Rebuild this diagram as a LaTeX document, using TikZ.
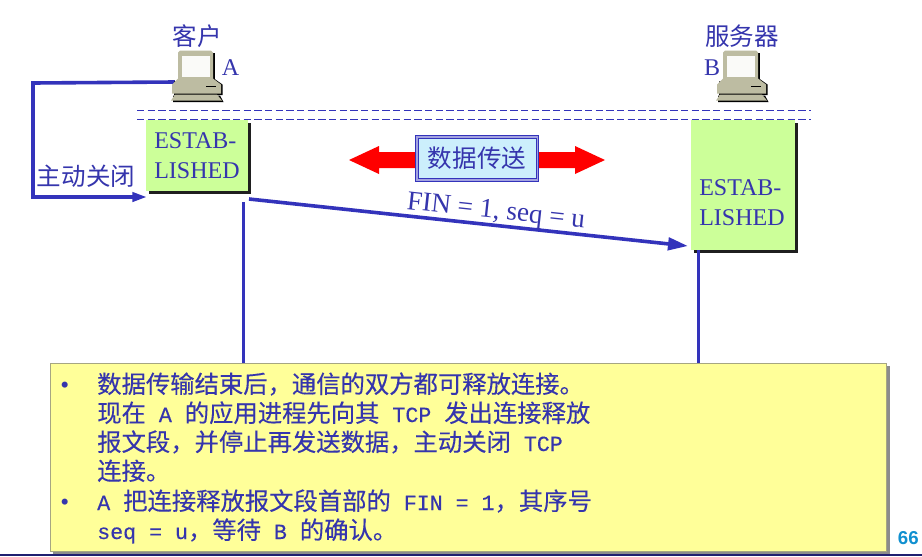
\documentclass[tikz,border=0pt]{standalone}
\usepackage{fontspec}
\usetikzlibrary{arrows.meta,shadows}
\setmainfont{Liberation Serif}
\newfontfamily\cjk{Noto Sans CJK SC}
\newfontfamily\cjkb{Noto Sans CJK SC}[FakeBold=0.25]
\newfontfamily\monof{Liberation Mono}[FakeBold=0.35]
\newfontfamily\headf{Liberation Sans}[BoldFont=Liberation Sans Bold]
\definecolor{ink}{HTML}{3333BB}
\definecolor{txt}{HTML}{3535AD}
\definecolor{green1}{HTML}{CCFF99}
\definecolor{yellow1}{HTML}{FFFF99}
\definecolor{bodyc}{HTML}{BDBCA2}
\definecolor{pagec}{HTML}{1090D0}
\newcommand{\pxs}[2]{\fontsize{#1}{#2}\selectfont}
\newcommand{\cn}[1]{{\cjk\pxs{18.4}{22}#1}}
\newcommand{\nl}[1]{{\cjkb\pxs{18.25}{22}#1}}
\newcommand{\ml}[1]{{\monof\pxs{16.2}{22}#1}}
\tikzset{
  flow/.style={draw=ink,line width=2.7pt,line join=miter},
  headtip/.style={-{Triangle[length=#1,width=0.62*#1]}},
  statebox/.style={fill=green1,inner sep=0pt,general shadow={fill=black!88,shadow xshift=2.2pt,shadow yshift=-2.2pt}},
  stlabel/.style={text=txt,font=\pxs{18}{21.8},align=left,inner sep=0pt},
  guide/.style={draw=ink,line width=0.6pt,dash pattern=on 5.5pt off 2.5pt},
  captxt/.style={text=txt,inner sep=0pt},
  notebox/.style={fill=yellow1,draw=yellow1!50!black!70!white,line width=0.7pt,inner sep=0pt,general shadow={fill=black!45,shadow xshift=2.4pt,shadow yshift=-2.4pt}},
  noteline/.style={text=txt,anchor=base west,inner sep=0pt},
  computer/.pic={
    \fill[black] (-17,-23) rectangle (17.5,3);
    \fill[black] (-23,6) -- (17,3) -- (25.5,9) -- (25.5,19.5) -- (-23,19.5) -- cycle;
    \fill[black] (-24,20) -- (23,20) -- (26.5,26.5) -- (-24,26.5) -- cycle;
    \fill[bodyc] (-19,-23) -- (-17,-25) -- (14,-25) -- (16,-23) -- (16,4) -- (-19,4) -- cycle;
    \fill[white!92!bodyc] (-15,-19.5) rectangle (13,1.5);
    \fill[bodyc] (-19,3) -- (16,3) -- (24,9) -- (24,18) -- (-25,18) -- (-25,9) -- cycle;
    \draw[black,line width=0.6pt] (9,10.5) -- (19,10.5);
    \fill[bodyc] (-22,19) -- (20,19) -- (25,25) -- (-26,25) -- cycle;
  }
}
\begin{document}
\begin{tikzpicture}[x=0.75pt,y=-0.75pt]
\useasboundingbox (0,0) rectangle (922,557);
\fill[white] (0,0) rectangle (922,557);
\coordinate (ruleL) at (0,555);
\coordinate (ruleR) at (922,555);
\draw[draw=ink!60!black,line width=1.2pt] (ruleL) -- (ruleR);
\node[captxt] (tA) at (197.5,36) {\cn{客户}};
\node[captxt] (tB) at (742,36) {\cn{服务器}};
\coordinate (aPort) at (175,82);
\coordinate (c1) at (33,83);
\coordinate (c2) at (33,197);
\coordinate (aIn) at (147,197);
\draw[flow,headtip=11pt] (aPort) -- (c1) -- (c2) -- (aIn);
\node[inner sep=0pt,minimum width=39pt,minimum height=39pt] (compA) at (197,75.5) {};
\node[inner sep=0pt,minimum width=39pt,minimum height=39pt] (compB) at (742,75.5) {};
\pic at (compA) {computer};
\pic at (compB) {computer};
\node[captxt,font=\pxs{18}{22},anchor=base] (lA) at (230.5,75) {A};
\node[captxt,font=\pxs{18}{22},anchor=base] (lB) at (712,75) {B};
\coordinate (g1l) at (137,110.5); \coordinate (g1r) at (811,110.5);
\coordinate (g2l) at (137,119);   \coordinate (g2r) at (811,119);
\draw[guide] (g1l) -- (g1r);
\draw[guide] (g2l) -- (g2r);
\node[statebox,minimum width=76.5pt,minimum height=53.5pt] (boxA) at (197,155.5) {};
\node[statebox,minimum width=78pt,minimum height=97.5pt] (boxB) at (743,185) {};
\node[stlabel,anchor=base west] (sA) at (154,178) {ESTAB-\\LISHED};
\node[stlabel,anchor=base west] (sB) at (699,225) {ESTAB-\\LISHED};
\fill[red] (349,160) -- (379,146) -- (379,152) -- (416,152) -- (416,168) -- (379,168) -- (379,174) -- cycle;
\fill[red] (605,160) -- (575,146) -- (575,152) -- (539,152) -- (539,168) -- (575,168) -- (575,174) -- cycle;
\node[draw=ink,line width=0.9pt,fill=ink!45!white,minimum width=92.5pt,minimum height=35pt,inner sep=0pt] (dataO) at (477,158.5) {};
\node[draw=ink,line width=0.7pt,fill=cyan!20!white,minimum width=88.5pt,minimum height=30pt,inner sep=0pt,text=txt] (data) at (477,158.5) {\cn{数据传送}};
\node[captxt] (close) at (86,176) {\cn{主动关闭}};
\coordinate (vA1) at (243.5,202); \coordinate (vA2) at (243.5,364);
\coordinate (vB1) at (698.5,250); \coordinate (vB2) at (698.5,364);
\draw[flow] (vA1) -- (vA2);
\draw[flow] (vB1) -- (vB2);
\coordinate (finS) at (249,199);
\coordinate (finE) at (688,246);
\draw[flow,headtip=15pt] (finS) -- (finE);
\node[captxt,rotate=-6.1,font=\pxs{20.4}{22}] (fin) at (496,212.5) {FIN = 1, seq = u};
\node[notebox,minimum width=627.5pt,minimum height=141pt] (note) at (468.5,457) {};
\node[noteline,font=\pxs{19}{20}] (b1) at (60,393) {•};
\node[noteline,font=\pxs{19}{20}] (b2) at (60,510) {•};
\node[noteline] (l1) at (97,393) {\nl{数据传输结束后，通信的双方都可释放连接。}};
\node[noteline] (l2) at (97,422) {\nl{现在}\ml{ A }\nl{的应用进程先向其}\ml{ TCP }\nl{发出连接释放}};
\node[noteline] (l3) at (97,451) {\nl{报文段，并停止再发送数据，主动关闭}\ml{ TCP}};
\node[noteline] (l4) at (97,480) {\nl{连接。}};
\node[noteline] (l5) at (97,510) {\ml{A }\nl{把连接释放报文段首部的}\ml{ FIN = 1}\nl{，其序号}};
\node[noteline] (l6) at (97,539) {\ml{seq = u}\nl{，等待}\ml{ B }\nl{的确认。}};
\node[anchor=base east,inner sep=0pt,text=pagec,font=\headf\bfseries\pxs{14}{16}] (pg) at (919,544) {66};
\end{tikzpicture}
\end{document}
